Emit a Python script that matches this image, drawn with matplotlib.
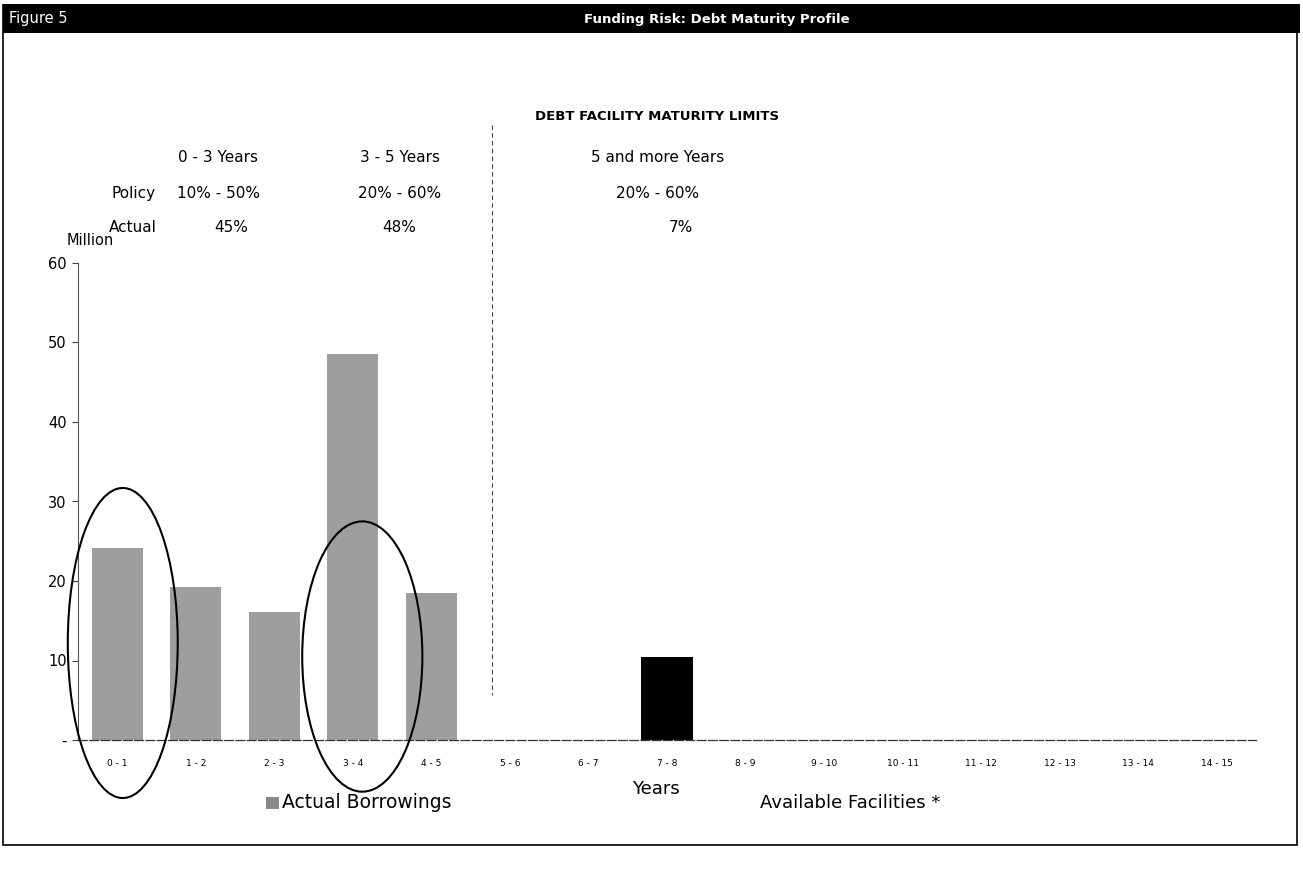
import matplotlib
matplotlib.use("Agg")
import matplotlib.pyplot as plt
from matplotlib.patches import Rectangle, Ellipse
from matplotlib.lines import Line2D

# Maturity buckets (years) and amounts in millions
buckets = ["0 - 1", "1 - 2", "2 - 3", "3 - 4", "4 - 5", "5 - 6", "6 - 7", "7 - 8",
           "8 - 9", "9 - 10", "10 - 11", "11 - 12", "12 - 13", "13 - 14", "14 - 15"]
actual_borrowings = [24.1, 19.3, 16.1, 48.6, 18.5, 0, 0, 0, 0, 0, 0, 0, 0, 0, 0]
available_facilities = [0, 0, 0, 0, 0, 0, 0, 10.5, 0, 0, 0, 0, 0, 0, 0]
y_ticks = [0, 10, 20, 30, 40, 50, 60]
y_tick_labels = ["-", "10", "20", "30", "40", "50", "60"]

# Maturity limit table
bands = ["0 - 3 Years", "3 - 5 Years", "5 and more Years"]
policy = ["10% - 50%", "20% - 60%", "20% - 60%"]
actual_share = ["45%", "48%", "7%"]

W, H = 1303, 875
fig = plt.figure(figsize=(W / 100, H / 100), dpi=100)
plt.rcParams["font.family"] = ["DejaVu Sans"]


def fx(px):
    return px / W


def fy(py):
    return 1 - py / H


# Outer frame and header bar
fig.add_artist(Rectangle((fx(3), fy(845)), fx(1297) - fx(3), fy(5) - fy(845),
                         transform=fig.transFigure, fill=False, ec="black", lw=1.2))
fig.add_artist(Rectangle((fx(3), fy(33)), fx(1300) - fx(3), fy(4) - fy(33),
                         transform=fig.transFigure, fc="black", ec="black", lw=0))
fig.text(fx(9), fy(19), "Figure 5", color="white", fontsize=10.5, va="center", ha="left")
fig.text(fx(717), fy(19), "Funding Risk: Debt Maturity Profile", color="white",
         fontsize=9.5, fontweight="bold", va="center", ha="center")

# Plot area
ax = fig.add_axes([fx(78), fy(740), fx(1256) - fx(78), fy(263) - fy(740)])
x = list(range(len(buckets)))
ax.bar(x, actual_borrowings, width=0.65, color="#9e9e9e", edgecolor="none", zorder=2)
ax.bar(x, available_facilities, width=0.65, color="black", edgecolor="none", zorder=2)

ax.set_xlim(-0.5, len(buckets) - 0.5)
ax.set_ylim(0, 60)
ax.set_yticks(y_ticks)
ax.set_yticklabels(y_tick_labels, fontsize=10.5)
ax.set_xticks(x)
ax.set_xticklabels(buckets, fontsize=6.5)
ax.tick_params(axis="x", length=0, pad=14)
ax.tick_params(axis="y", length=4, width=0.8, direction="out", pad=4, color="#444444")
for side in ("top", "right"):
    ax.spines[side].set_visible(False)
ax.spines["left"].set_color("#555555")
ax.spines["left"].set_linewidth(0.8)
ax.spines["bottom"].set_color("#333333")
ax.spines["bottom"].set_linewidth(0.9)
ax.spines["bottom"].set_linestyle((0, (7, 2)))
ax.patch.set_alpha(0)
fig.text(fx(656), fy(789), "Years", fontsize=13, ha="center", va="center")

# Hand-drawn rings around the 0-1 and 3-4 buckets
ax.add_patch(Ellipse((0.07, 12.2), 1.40, 39.0, fill=False, ec="black", lw=1.5,
                     clip_on=False, zorder=3))
ax.add_patch(Ellipse((3.12, 10.5), 1.53, 34.0, fill=False, ec="black", lw=1.5,
                     clip_on=False, zorder=3))

# Separator between the 3-5 year and 5+ year bands
fig.add_artist(Line2D([fx(492), fx(492)], [fy(125), fy(695)], transform=fig.transFigure,
                      color="#444444", lw=0.8, linestyle=(0, (4, 3))))

fig.text(fx(67), fy(241), "Million", fontsize=10.5, ha="left", va="center")

# Limits table
fig.text(fx(657), fy(117), "DEBT FACILITY MATURITY LIMITS", fontsize=9.5,
         fontweight="bold", ha="center", va="center")
col_x = [218, 400, 658]
for cx, b, p in zip(col_x, bands, policy):
    fig.text(fx(cx), fy(157), b, fontsize=11, ha="center", va="center")
    fig.text(fx(cx), fy(193), p, fontsize=11, ha="center", va="center")
for cx, a in zip([231, 399, 681], actual_share):
    fig.text(fx(cx), fy(228), a, fontsize=11, ha="center", va="center")
fig.text(fx(156), fy(193), "Policy", fontsize=11, ha="right", va="center")
fig.text(fx(157), fy(228), "Actual", fontsize=11, ha="right", va="center")

# Legend
fig.add_artist(Rectangle((fx(266), fy(809)), fx(13), fy(0) - fy(12),
                         transform=fig.transFigure, fc="#8a8a8a", ec="none"))
fig.text(fx(282), fy(803), "Actual Borrowings", fontsize=13.5, ha="left", va="center")
fig.text(fx(760), fy(803), "Available Facilities *", fontsize=13, ha="left", va="center")

fig.savefig("out.png", dpi=100)
